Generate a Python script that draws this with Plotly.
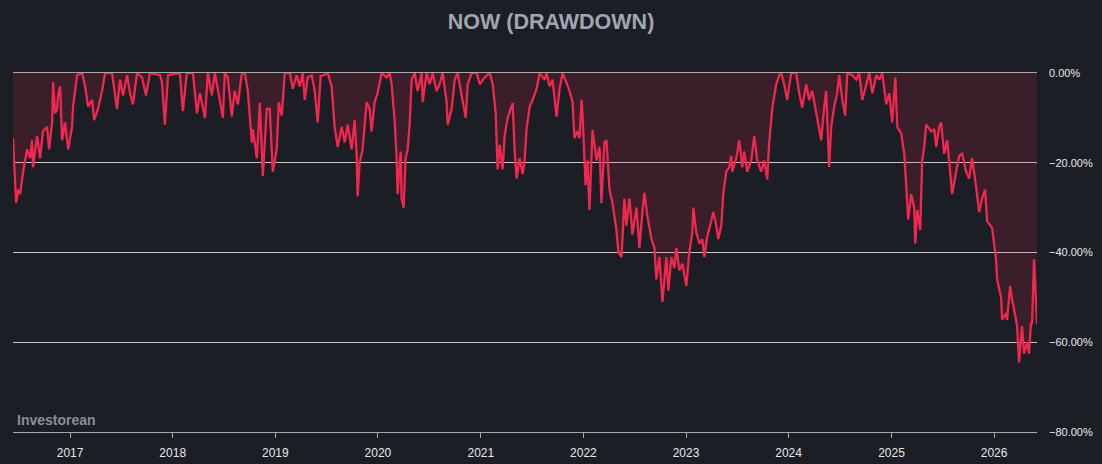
import plotly.graph_objects as go
from datetime import datetime

# Dates as decimal years, drawdown in percent
date_years = [
    2016.445, 2016.455, 2016.475, 2016.494, 2016.514, 2016.543, 2016.582, 2016.611, 2016.630, 2016.640,
    2016.679, 2016.708, 2016.737, 2016.776, 2016.796, 2016.825, 2016.835, 2016.854, 2016.874, 2016.883,
    2016.903, 2016.922, 2016.951, 2016.981, 2017.019, 2017.029, 2017.068, 2017.117, 2017.146, 2017.175,
    2017.214, 2017.234, 2017.272, 2017.311, 2017.341, 2017.409, 2017.457, 2017.487, 2017.516, 2017.555,
    2017.584, 2017.613, 2017.652, 2017.701, 2017.740, 2017.778, 2017.876, 2017.895, 2017.924, 2017.954,
    2018.070, 2018.099, 2018.138, 2018.197, 2018.236, 2018.265, 2018.314, 2018.343, 2018.382, 2018.411,
    2018.440, 2018.489, 2018.508, 2018.537, 2018.576, 2018.605, 2018.635, 2018.674, 2018.703, 2018.732,
    2018.771, 2018.781, 2018.820, 2018.849, 2018.878, 2018.917, 2018.946, 2018.975, 2019.014, 2019.034,
    2019.063, 2019.092, 2019.141, 2019.170, 2019.209, 2019.238, 2019.267, 2019.287, 2019.316, 2019.355,
    2019.384, 2019.413, 2019.442, 2019.481, 2019.510, 2019.549, 2019.578, 2019.608, 2019.647, 2019.676,
    2019.705, 2019.744, 2019.773, 2019.793, 2019.802, 2019.822, 2019.851, 2019.890, 2019.919, 2019.938,
    2019.968, 2019.997, 2020.036, 2020.084, 2020.114, 2020.133, 2020.162, 2020.182, 2020.191, 2020.221,
    2020.230, 2020.250, 2020.269, 2020.289, 2020.308, 2020.328, 2020.357, 2020.386, 2020.425, 2020.435,
    2020.474, 2020.503, 2020.532, 2020.571, 2020.600, 2020.629, 2020.668, 2020.678, 2020.717, 2020.746,
    2020.775, 2020.814, 2020.853, 2020.873, 2020.911, 2020.960, 2020.989, 2021.038, 2021.087, 2021.116,
    2021.145, 2021.164, 2021.184, 2021.213, 2021.232, 2021.262, 2021.291, 2021.310, 2021.330, 2021.349,
    2021.378, 2021.408, 2021.427, 2021.446, 2021.476, 2021.505, 2021.544, 2021.573, 2021.622, 2021.641,
    2021.670, 2021.699, 2021.738, 2021.768, 2021.797, 2021.836, 2021.865, 2021.894, 2021.913, 2021.943,
    2021.962, 2021.982, 2021.991, 2022.021, 2022.040, 2022.059, 2022.089, 2022.128, 2022.157, 2022.176,
    2022.205, 2022.225, 2022.254, 2022.283, 2022.322, 2022.342, 2022.371, 2022.400, 2022.419, 2022.449,
    2022.478, 2022.517, 2022.546, 2022.575, 2022.595, 2022.624, 2022.663, 2022.692, 2022.711, 2022.740,
    2022.770, 2022.809, 2022.828, 2022.857, 2022.886, 2022.906, 2022.935, 2022.964, 2023.003, 2023.032,
    2023.061, 2023.071, 2023.100, 2023.130, 2023.159, 2023.178, 2023.207, 2023.246, 2023.266, 2023.295,
    2023.314, 2023.344, 2023.363, 2023.392, 2023.421, 2023.441, 2023.451, 2023.490, 2023.519, 2023.548,
    2023.567, 2023.597, 2023.636, 2023.665, 2023.694, 2023.733, 2023.762, 2023.791, 2023.811, 2023.840,
    2023.879, 2023.908, 2023.927, 2023.957, 2023.986, 2024.025, 2024.073, 2024.103, 2024.132, 2024.171,
    2024.200, 2024.229, 2024.268, 2024.297, 2024.317, 2024.346, 2024.365, 2024.375, 2024.394, 2024.414,
    2024.443, 2024.472, 2024.492, 2024.521, 2024.550, 2024.570, 2024.618, 2024.657, 2024.686, 2024.716,
    2024.754, 2024.784, 2024.813, 2024.852, 2024.881, 2024.910, 2024.949, 2024.978, 2025.007, 2025.037,
    2025.056, 2025.095, 2025.124, 2025.163, 2025.192, 2025.221, 2025.231, 2025.251, 2025.280, 2025.299,
    2025.319, 2025.338, 2025.387, 2025.416, 2025.436, 2025.465, 2025.484, 2025.513, 2025.543, 2025.562,
    2025.591, 2025.630, 2025.659, 2025.689, 2025.727, 2025.757, 2025.786, 2025.825, 2025.854, 2025.883,
    2025.912, 2025.932, 2025.980, 2026.019, 2026.029, 2026.068, 2026.078, 2026.117, 2026.126, 2026.156,
    2026.175, 2026.214, 2026.224, 2026.243, 2026.272, 2026.292, 2026.321, 2026.340, 2026.360, 2026.370,
    2026.389, 2026.409, 2026.418,
]

drawdown_pct = [
    -14.5, -19, -29, -26, -27, -22, -17, -19, -15, -21,
    -14, -19, -13, -12, -17, -11, -2, -9, -8, -5,
    -3, -15, -11, -17, -12, -7.5, -0.5, 0, -3, -7.5,
    -6, -10.5, -8, -4, 0, 0, -8, -1.5, -5, -0.5,
    -4.5, -7, 0, -1, -5, 0, -0.5, -2, -11.5, -0.5,
    0, -8.5, 0, 0, -9, -4.5, -10, 0, -5, 0,
    -4, -10, 0, -1, -9.7, -4, -7, 0, 0, -4,
    -15.5, -12.5, -19, -6.7, -23, -8, -8, -22, -17, -6.5,
    -9.5, 0, 0, -3.5, -0.5, -3, 0, -6, -1, -0.5,
    -4, -11, -0.7, -0.4, 0, -3, -12, -16.5, -12, -15.5,
    -11.5, -17, -10.5, -18.5, -27.5, -20, -17, -6.5, -8, -13,
    -6.5, -4.5, 0, -1, 0, -2.5, -10.5, -19, -27, -17.5,
    -28, -30, -19, -17, -11.5, -1.5, 0, -4, 0, -6.5,
    0, -2.5, 0, -4, -2.5, 0, -6.5, -11.5, -8, -1.5,
    0, -5.5, -10, -2.5, 0, 0, -2.5, -1, 0, -2.5,
    -9, -21.5, -16, -21.5, -14, -10, -8, -6.7, -17.5, -23.5,
    -19, -22.5, -19.5, -12.5, -7.5, -6, -3.5, 0, -1.5, 0,
    -3, -1.5, -9.7, -3.5, 0, -2.5, -4, -6.5, -14.5, -13,
    -14.5, -6, -9, -25, -19.5, -30.5, -12.7, -19.5, -16.5, -29,
    -15.5, -15, -26, -29, -35, -40, -41, -28, -34, -28,
    -36, -30, -39, -31, -26.7, -32, -37, -39, -46, -41,
    -51, -41, -48.5, -41, -43.5, -39, -44, -42.5, -47.5, -40,
    -35.5, -30, -35.5, -38, -37, -41, -36.5, -33, -31, -34,
    -37, -34, -27, -22, -21, -18.5, -22, -19, -15, -21,
    -17.5, -22, -19.5, -14, -19.5, -22, -19.5, -23.7, -15.5, -8,
    -2.5, -0.5, 0, -2.5, -6, 0, 0, -4.5, -7.7, -2.5,
    -6, -4, -8.5, -12, -15, -7.5, -4, -10, -21, -12,
    -7.5, -4.5, -0.5, -6, -9.5, 0, -0.5, -1.5, 0, -6,
    -2.5, 0, -4.5, -0.5, -1.5, 0, -7, -4.5, -11, -1,
    -12, -13.5, -18, -32.7, -27, -30, -38, -30.5, -35, -19.5,
    -16.5, -11.5, -13, -12.5, -16.5, -12, -11, -18, -15, -20,
    -27, -22, -18.5, -18, -22, -23.5, -19, -25.5, -31, -28,
    -26, -33, -34.5, -41.5, -46, -50, -55, -53.5, -55, -47.5,
    -50.5, -55, -56.5, -64.5, -56.4, -62.5, -60, -62.5, -55.5, -56,
    -41.5, -51.5, -56,
]

y_tick_values = [0, -0.2, -0.4, -0.6, -0.8]


def to_datetime(dec_year):
    year = int(dec_year)
    start = datetime(year, 1, 1)
    end = datetime(year + 1, 1, 1)
    return start + (end - start) * (dec_year - year)


dates = [to_datetime(v) for v in date_years]
values = [v / 100.0 for v in drawdown_pct]

BG = "#1b1e24"

fig = go.Figure()
fig.add_trace(go.Scatter(
    x=dates,
    y=values,
    mode="lines",
    line=dict(color="#f0284f", width=2.3),
    fill="tozeroy",
    fillcolor="rgba(240,40,80,0.15)",
    hoverinfo="skip",
    showlegend=False,
))

fig.update_layout(
    width=1102,
    height=464,
    paper_bgcolor=BG,
    plot_bgcolor=BG,
    margin=dict(l=13, r=65, t=73, b=32),
    font=dict(family="Liberation Sans, Arial, sans-serif", color="#e6e6e6"),
    title=dict(
        text="<b>NOW (DRAWDOWN)</b>",
        x=0.5,
        xanchor="center",
        y=1 - 21.5 / 464,
        yanchor="middle",
        yref="container",
        font=dict(size=21.5, color="#a2a5b1"),
    ),
    showlegend=False,
)

fig.update_xaxes(
    type="date",
    range=[dates[0], dates[-1]],
    dtick="M12",
    tickformat="%Y",
    showgrid=False,
    zeroline=False,
    showline=True,
    mirror=True,
    linecolor="#a8a8a8",
    linewidth=1,
    ticks="outside",
    ticklen=5,
    tickcolor="#a8a8a8",
    ticklabelstandoff=5,
    automargin=False,
    tickfont=dict(size=12, color="#e8e8e8"),
)

fig.update_yaxes(
    side="right",
    range=[-0.8, 0],
    tickvals=y_tick_values,
    tickformat=".2%",
    showgrid=True,
    gridcolor="#c8c8c8",
    gridwidth=1,
    zeroline=False,
    showline=False,
    ticks="",
    ticklabelstandoff=11,
    automargin=False,
    tickfont=dict(size=11, color="#e8e8e8"),
)

fig.add_annotation(
    text="<b>Investorean</b>",
    xref="paper",
    yref="paper",
    x=0,
    y=0,
    xanchor="left",
    yanchor="bottom",
    xshift=2,
    yshift=2,
    showarrow=False,
    font=dict(size=14, color="#8c8f99"),
)

fig.write_html("out.html")
